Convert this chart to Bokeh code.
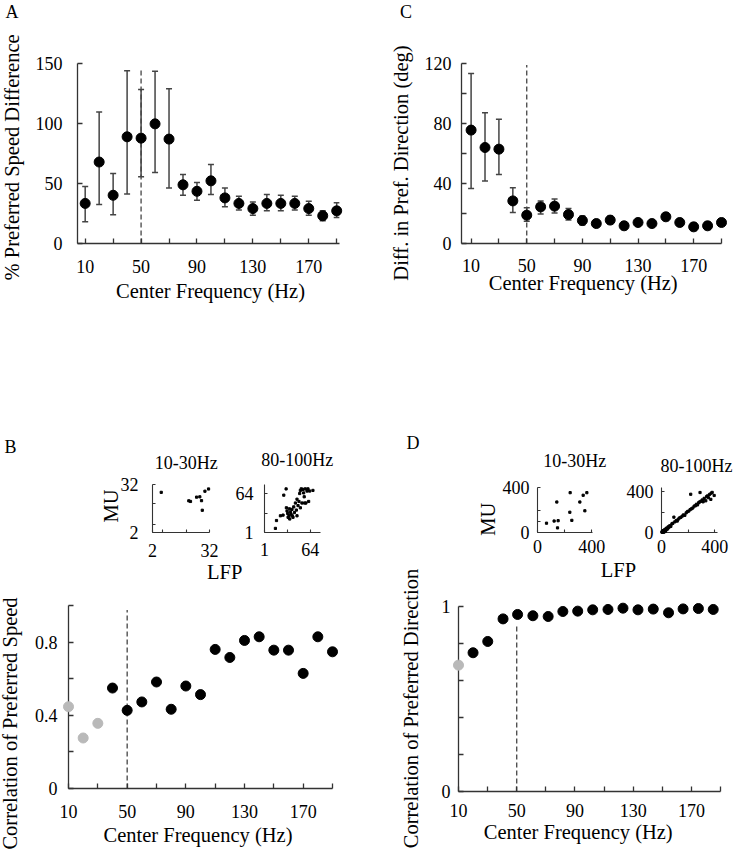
import math
from bokeh.plotting import figure
from bokeh.models import Range1d, FixedTicker, Whisker, TeeHead, ColumnDataSource
from bokeh.core.properties import value
from bokeh.layouts import row, column
from bokeh.embed import file_html
from bokeh.resources import INLINE

# ---------------- data ----------------
freqs = [10, 20, 30, 40, 50, 60, 70, 80, 90, 100, 110, 120, 130, 140, 150, 160, 170, 180, 190]
cutoff_hz = 50

# A: % preferred speed difference (mean, upper, lower of error bars)
A_mean = [33.4, 67.9, 40.2, 88.9, 87.8, 99.7, 87.0, 48.9, 43.5, 52.2, 38.0, 33.4, 29.1, 33.4, 33.4, 33.4, 29.1, 23.1, 27.2]
A_upper = [47.6, 109.5, 58.4, 144.0, 128.3, 143.5, 129.0, 57.6, 50.8, 65.8, 46.2, 39.4, 34.5, 40.8, 40.2, 39.4, 35.3, 27.2, 34.0]
A_lower = [18.2, 32.6, 23.9, 41.3, 55.7, 59.2, 46.2, 40.2, 36.1, 40.8, 30.7, 28.0, 23.6, 27.2, 27.2, 28.0, 23.6, 19.0, 21.7]
A_dash_top = 145

# C: difference in preferred direction (deg)
C_mean = [75.6, 64.0, 62.9, 28.4, 18.9, 24.4, 24.9, 19.3, 15.3, 13.3, 15.6, 11.8, 14.0, 13.3, 17.8, 14.0, 11.1, 11.8, 14.0]
C_upper = [113.3, 87.1, 82.9, 37.1, 23.8, 28.4, 29.6, 23.3, 18.3, 15.8, 18.1, 14.3, 16.5, 15.8, 20.3, 16.5, 13.6, 14.3, 16.5]
C_lower = [36.7, 41.6, 46.0, 20.7, 14.9, 19.6, 20.4, 15.6, 12.3, 10.8, 13.1, 9.3, 11.5, 10.8, 15.3, 11.5, 8.6, 9.3, 11.5]
C_dash_top = 119

# B: correlation of preferred speed
B_corr = [0.447, 0.276, 0.356, 0.549, 0.427, 0.473, 0.582, 0.433, 0.560, 0.513, 0.760, 0.716, 0.809, 0.829, 0.756, 0.756, 0.629, 0.829, 0.747]
B_signif = [False, False, False, True, True, True, True, True, True, True, True, True, True, True, True, True, True, True, True]
B_dash_top = 0.976

# D: correlation of preferred direction
D_freq = [10, 20, 30.1, 40.6, 50.6, 61.1, 71.6, 81.7, 91.9, 102.2, 112.7, 123, 133.3, 143.8, 154.3, 164.3, 174.8, 185]
D_corr = [0.683, 0.750, 0.811, 0.933, 0.957, 0.950, 0.946, 0.973, 0.975, 0.982, 0.984, 0.991, 0.982, 0.986, 0.966, 0.987, 0.989, 0.984]
D_signif = [False, True, True, True, True, True, True, True, True, True, True, True, True, True, True, True, True, True]
D_dash_top = 0.9

# Insets B: LFP vs MU preferred speed
BL_lfp = [6.6, 21.1, 22.0, 25.2, 26.9, 27.8, 29.6, 31.5, 28.2]
BL_mu = [27.1, 21.8, 21.4, 24.1, 24.3, 21.9, 27.8, 29.2, 15.9]
BR_lfp = [16.0, 17.5, 22.9, 26.5, 27.5, 30.7, 31.1, 32.0, 32.9, 33.4, 34.7, 35.7, 36.5, 37.4, 38.8, 39.2, 41.2, 42.1, 43.5, 44.8, 45.7,
          47.1, 48.4, 49.4, 50.3, 51.6, 52.5, 53.9, 54.8, 55.6, 57.1, 57.9, 59.5, 60.8, 61.7, 63.1, 67.6, 45.7, 40.2, 35.2, 50.3, 56.1]
BR_mu = [7.6, 20.2, 27.8, 28.9, 60.9, 70.9, 40.6, 35.5, 31.5, 25.4, 27.8, 22.7, 34.0, 30.5, 38.1, 27.8, 42.1, 33.0, 48.3, 37.0, 54.4,
         44.2, 50.8, 63.5, 68.5, 71.0, 48.3, 70.1, 64.5, 58.3, 71.0, 48.3, 67.5, 71.0, 50.8, 67.5, 68.5, 27.8, 25.4, 39.0, 40.6, 48.3]

# Insets D: LFP vs MU preferred direction
DL_lfp = [66.5, 122.7, 152.3, 142.6, 147.8, 241, 238.7, 253.5, 312.6, 337, 349.6, 364.4]
DL_mu = [82.8, 102, 105, 271, 41, 354, 180, 108, 271, 331, 193, 354]
DR_lfp = [3, 6, 8, 10, 12, 15, 18, 20, 22, 25, 28, 30, 33, 36, 40, 45, 50, 55, 62, 70, 78, 85, 93, 100, 110, 118, 125, 135, 145, 155,
          165, 175, 185, 195, 205, 215, 219, 225, 235, 245, 255, 262, 270, 278, 285, 289, 295, 305, 312, 320, 332, 338, 345, 352, 360,
          370, 372, 380, 395]
DR_mu = [5, 2, 12, 6, 18, 9, 3, 22, 14, 28, 10, 20, 36, 26, 44, 34, 55, 48, 66, 60, 84, 90, 150, 104, 116, 112, 130, 142, 148, 160,
         172, 168, 192, 205, 210, 224, 374, 232, 240, 258, 262, 276, 270, 290, 298, 391, 305, 318, 300, 334, 310, 350, 358, 340, 372,
         324, 384, 392, 362]

# tick definitions
freq_ticks = [10, 30, 50, 70, 90, 110, 130, 150, 170, 190]
freq_labels = ["10", "", "50", "", "90", "", "130", "", "170", ""]
A_yticks = [0, 50, 100, 150]
A_ylabels = ["0", "50", "100", "150"]
C_yticks = [0, 20, 40, 60, 80, 100, 120]
C_ylabels = ["0", "", "40", "", "80", "", "120"]
B_yticks = [0, 0.2, 0.4, 0.6, 0.8, 1.0]
B_ylabels = ["0", "", "0.4", "", "0.8", ""]
D_ylabels = ["0", "", "", "", "", "1"]

# ---------------- styling helpers ----------------
FONT = "Liberation Serif"
TICK_FS = "18px"
LAB_FS = "20.5px"
AX_COL = "#333333"
BAR_COL = "#444444"
GRAY = "#b9b9b9"


class Geo:
    """Canvas origin (ox, oy) in page pixels, frame offsets and sizes, data ranges."""
    def __init__(self, ox, oy, w, h, fl, ft, fw, fh, xr, yr):
        self.ox, self.oy, self.w, self.h = ox, oy, w, h
        self.fl, self.ft, self.fw, self.fh = fl, ft, fw, fh
        self.xr, self.yr = xr, yr

    def x(self, px):
        return self.xr[0] + (px - self.ox - self.fl) / self.fw * (self.xr[1] - self.xr[0])

    def y(self, py):
        return self.yr[0] + (self.oy + self.ft + self.fh - py) / self.fh * (self.yr[1] - self.yr[0])


def make_fig(g):
    p = figure(width=g.w, height=g.h, x_range=Range1d(*g.xr), y_range=Range1d(*g.yr),
               min_border_left=g.fl, min_border_right=g.w - g.fl - g.fw,
               min_border_top=g.ft, min_border_bottom=g.h - g.ft - g.fh,
               output_backend="svg", toolbar_location=None, tools="")
    p.outline_line_color = None
    p.xgrid.visible = False
    p.ygrid.visible = False
    p.background_fill_color = "white"
    p.border_fill_color = "white"
    return p


def style_axes(p, xt, xl, yt, yl, tick_len, xs, ys, lw=1.3):
    for ax in (p.xaxis[0], p.yaxis[0]):
        ax.axis_line_color = AX_COL
        ax.axis_line_width = lw
        ax.major_tick_line_color = AX_COL
        ax.major_tick_line_width = lw
        ax.major_tick_in = tick_len
        ax.major_tick_out = 0
        ax.minor_tick_line_color = None
        ax.major_label_text_font = FONT
        ax.major_label_text_font_size = TICK_FS
        ax.major_label_text_color = "black"
    p.xaxis.ticker = FixedTicker(ticks=xt)
    p.xaxis.major_label_overrides = {t: l for t, l in zip(xt, xl)}
    p.yaxis.ticker = FixedTicker(ticks=yt)
    p.yaxis.major_label_overrides = {t: l for t, l in zip(yt, yl)}
    p.xaxis.major_label_standoff = xs
    p.yaxis.major_label_standoff = ys


def add_text(p, g, text, px, py, size=LAB_FS, align="center", rotate=False):
    """Text anchored at the middle of its em box."""
    r = p.text(x=[g.x(px)], y=[g.y(py)], text=[text], text_font=value(FONT), text_font_size=value(size),
               text_align=value(align), text_baseline=value("middle"), text_color="black",
               angle=(math.pi / 2 if rotate else 0))
    r.level = "overlay"


def error_panel(p, xs, mean, upper, lower, dash_top):
    p.segment(x0=[cutoff_hz], y0=[0], x1=[cutoff_hz], y1=[dash_top], line_dash="5 3",
              line_color=BAR_COL, line_width=1.3)
    src = ColumnDataSource(dict(x=xs, y=mean, upper=upper, lower=lower))
    p.add_layout(Whisker(source=src, base="x", upper="upper", lower="lower",
                         line_color=BAR_COL, line_width=1.5,
                         upper_head=TeeHead(size=6, line_color=BAR_COL, line_width=1.5),
                         lower_head=TeeHead(size=6, line_color=BAR_COL, line_width=1.5)))
    r = p.scatter("x", "y", source=src, size=10, color="black")
    r.level = "overlay"


def corr_panel(p, xs, corr, signif, dash_top):
    p.segment(x0=[cutoff_hz], y0=[0], x1=[cutoff_hz], y1=[dash_top], line_dash="5 3",
              line_color=BAR_COL, line_width=1.3)
    colors = ["black" if s else GRAY for s in signif]
    src = ColumnDataSource(dict(x=xs, y=corr, c=colors))
    r = p.scatter("x", "y", source=src, size=10, fill_color="c", line_color="c")
    r.level = "overlay"


def inset_points(p, xs, ys):
    r = p.scatter(xs, ys, marker="square", size=2.2, color="black")
    r.level = "overlay"


# ---------------- panel A ----------------
gA = Geo(0, 0, 366, 308, 77, 62, 262, 184, (4.5, 192), (0, 150))
pA = make_fig(gA)
style_axes(pA, freq_ticks, freq_labels, A_yticks, A_ylabels, 5, 16, 15)
error_panel(pA, freqs, A_mean, A_upper, A_lower, A_dash_top)
add_text(pA, gA, "A", 5, 9.5, size="18px", align="left")
add_text(pA, gA, "% Preferred Speed Difference", 11.5, 158, rotate=True)
add_text(pA, gA, "Center Frequency (Hz)", 210, 294.2)

# ---------------- panel C ----------------
gC = Geo(366, 0, 367, 308, 95, 63, 260, 180, (3.1, 190), (0, 120))
pC = make_fig(gC)
style_axes(pC, freq_ticks, freq_labels, C_yticks, C_ylabels, 5, 15, 10)
error_panel(pC, freqs, C_mean, C_upper, C_lower, C_dash_top)
add_text(pC, gC, "C", 399.5, 11.7, size="18px", align="left")
add_text(pC, gC, "Diff. in Pref. Direction (deg)", 400.7, 162.5, rotate=True)
add_text(pC, gC, "Center Frequency (Hz)", 582.7, 282.5)

# ---------------- insets B ----------------
gBL = Geo(0, 308, 226, 252, 152, 173, 57, 51, (2, 32), (2, 32))
pBL = make_fig(gBL)
style_axes(pBL, [2, 7, 20, 32], ["2", "", "", "32"], [2, 7, 20, 32], ["2", "", "", "32"], 3, 11, 14, lw=1.1)
inset_points(pBL, BL_lfp, BL_mu)
add_text(pBL, gBL, "B", 4, 440.8, size="18px", align="left")
add_text(pBL, gBL, "10-30Hz", 185.8, 458.4, size="18px")
add_text(pBL, gBL, "MU", 110.8, 503.8, rotate=True)

gBR = Geo(226, 308, 140, 252, 38, 176, 56, 50, (1, 78), (1, 78))
pBR = make_fig(gBR)
style_axes(pBR, [1, 32, 64], ["1", "", "64"], [1, 32, 64], ["1", "", "64"], 3, 10, 11, lw=1.1)
inset_points(pBR, BR_lfp, BR_mu)
add_text(pBR, gBR, "80-100Hz", 296.7, 458.4, size="18px")

# ---------------- panel B ----------------
gB = Geo(0, 560, 366, 293, 68, 45, 264, 183, (10, 190), (0, 1))
pB = make_fig(gB)
style_axes(pB, freq_ticks, freq_labels, B_yticks, B_ylabels, 5, 16, 11)
corr_panel(pB, freqs, B_corr, B_signif, B_dash_top)
add_text(pB, gB, "LFP", 224.2, 571.7)
add_text(pB, gB, "Correlation of Preferred Speed", 9.5, 723, rotate=True)
add_text(pB, gB, "Center Frequency (Hz)", 197.5, 834)

# ---------------- insets D ----------------
gDL = Geo(366, 308, 250, 250, 171, 179, 55, 48, (0, 406), (0, 400))
pDL = make_fig(gDL)
style_axes(pDL, [0, 200, 400], ["0", "", "400"], [0, 100, 200, 400], ["0", "", "", "400"], 3, 7, 8, lw=1.1)
inset_points(pDL, DL_lfp, DL_mu)
add_text(pDL, gDL, "D", 406, 439.7, size="18px", align="left")
add_text(pDL, gDL, "10-30Hz", 574.3, 458.4, size="18px")
add_text(pDL, gDL, "MU", 487.7, 520.8, rotate=True)

gDR = Geo(616, 308, 117, 250, 45, 174, 56, 50, (0, 420), (0, 440))
pDR = make_fig(gDR)
style_axes(pDR, [0, 200, 400], ["0", "", "400"], [0, 200, 400], ["0", "", "400"], 3, 7, 8, lw=1.1)
inset_points(pDR, DR_lfp, DR_mu)
add_text(pDR, gDR, "80-100Hz", 696, 458.4, size="18px")

# ---------------- panel D ----------------
gD = Geo(366, 558, 367, 295, 92, 48, 262, 185, (10, 190), (0, 1))
pD = make_fig(gD)
style_axes(pD, freq_ticks, freq_labels, B_yticks, D_ylabels, 5, 12, 8)
corr_panel(pD, D_freq, D_corr, D_signif, D_dash_top)
add_text(pD, gD, "LFP", 618, 569.8)
add_text(pD, gD, "Correlation of Preferred Direction", 410.7, 708, rotate=True)
add_text(pD, gD, "Center Frequency (Hz)", 577.7, 831.7)

layout = column(
    row(pA, pC),
    row(column(row(pBL, pBR), pB), column(row(pDL, pDR), pD)),
)

open("out.html", "w").write(file_html(layout, INLINE, title="LFP vs MU tuning"))
